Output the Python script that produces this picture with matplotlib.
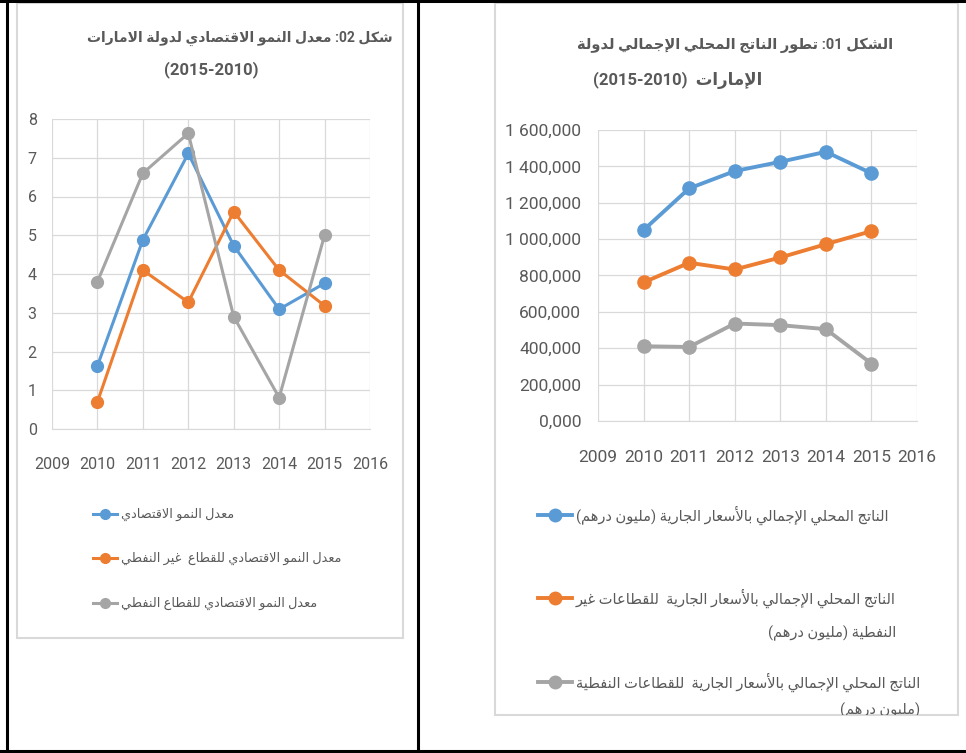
import matplotlib
matplotlib.use("Agg")
import matplotlib.pyplot as plt
from matplotlib.lines import Line2D
from matplotlib.patches import Rectangle

# ---- data ----
years = [2010, 2011, 2012, 2013, 2014, 2015]

growth_total = [1.63, 4.88, 7.11, 4.73, 3.09, 3.76]
growth_nonoil = [0.70, 4.10, 3.27, 5.61, 4.10, 3.18]
growth_oil = [3.80, 6.60, 7.63, 2.90, 0.81, 5.00]

gdp_total = [1050000, 1279000, 1374000, 1425000, 1480000, 1362000]
gdp_nonoil = [762000, 870000, 833000, 899000, 972000, 1044000]
gdp_oil = [411000, 407000, 536000, 527000, 505000, 316000]

colors = ["#5B9BD5", "#ED7D31", "#A5A5A5"]

# ---- minimal arabic shaping (presentation forms + RTL) ----
_AR = [('\u0621', 0xFE80, 1), ('\u0622', 0xFE81, 2), ('\u0623', 0xFE83, 2),
       ('\u0624', 0xFE85, 2), ('\u0625', 0xFE87, 2), ('\u0626', 0xFE89, 4),
       ('\u0627', 0xFE8D, 2), ('\u0628', 0xFE8F, 4), ('\u0629', 0xFE93, 2),
       ('\u062A', 0xFE95, 4), ('\u062B', 0xFE99, 4), ('\u062C', 0xFE9D, 4),
       ('\u062D', 0xFEA1, 4), ('\u062E', 0xFEA5, 4), ('\u062F', 0xFEA9, 2),
       ('\u0630', 0xFEAB, 2), ('\u0631', 0xFEAD, 2), ('\u0632', 0xFEAF, 2),
       ('\u0633', 0xFEB1, 4), ('\u0634', 0xFEB5, 4), ('\u0635', 0xFEB9, 4),
       ('\u0636', 0xFEBD, 4), ('\u0637', 0xFEC1, 4), ('\u0638', 0xFEC5, 4),
       ('\u0639', 0xFEC9, 4), ('\u063A', 0xFECD, 4), ('\u0641', 0xFED1, 4),
       ('\u0642', 0xFED5, 4), ('\u0643', 0xFED9, 4), ('\u0644', 0xFEDD, 4),
       ('\u0645', 0xFEE1, 4), ('\u0646', 0xFEE5, 4), ('\u0647', 0xFEE9, 4),
       ('\u0648', 0xFEED, 2), ('\u0649', 0xFEEF, 2), ('\u064A', 0xFEF1, 4)]
FORMS = {c: (b, k) for c, b, k in _AR}
LAMALEF = {'\u0622': 0xFEF5, '\u0623': 0xFEF7, '\u0625': 0xFEF9, '\u0627': 0xFEFB}


def shape(s):
    out = []
    n = len(s)
    i = 0
    while i < n:
        c = s[i]
        if c not in FORMS:
            out.append(c)
            i += 1
            continue
        prev = s[i - 1] if i > 0 else ''
        jp = prev in FORMS and FORMS[prev][1] == 4
        if c == '\u0644' and i + 1 < n and s[i + 1] in LAMALEF:
            out.append(chr(LAMALEF[s[i + 1]] + (1 if jp else 0)))
            i += 2
            continue
        nxt = s[i + 1] if i + 1 < n else ''
        base, k = FORMS[c]
        if k == 1:
            off = 0
        elif k == 2:
            off = 1 if jp else 0
        else:
            jn = nxt in FORMS
            off = 3 if (jp and jn) else 1 if jp else 2 if jn else 0
        out.append(chr(base + off))
        i += 1
    return ''.join(out)


def ar(s):
    # shaped glyphs in visual (left-to-right) order
    return shape(s)[::-1].translate(str.maketrans('()', ')('))


title_left = [ar("معدل النمو الاقتصادي لدولة الامارات") + " :02 " + ar("شكل"),
              "(2015-2010)"]
title_right = [ar("تطور الناتج المحلي الإجمالي لدولة") + " :01 " + ar("الشكل"),
               "(2015-2010)  " + ar("الإمارات")]

labels_left = [ar("معدل النمو الاقتصادي"),
               ar("معدل النمو الاقتصادي للقطاع  غير النفطي"),
               ar("معدل النمو الاقتصادي للقطاع النفطي")]
labels_right = [[ar("الناتج المحلي الإجمالي بالأسعار الجارية (مليون درهم)")],
                [ar("الناتج المحلي الإجمالي بالأسعار الجارية  للقطاعات غير"),
                 ar("النفطية (مليون درهم)")],
                [ar("الناتج المحلي الإجمالي بالأسعار الجارية  للقطاعات النفطية"),
                 ar("(مليون درهم)")]]

W, H = 966, 753
def fx(x): return x / W
def fy(y): return 1 - y / H

fonts = ["Roboto", "DejaVu Sans"]
txt_col = "#595959"

fig = plt.figure(figsize=(W / 100, H / 100), dpi=100)
renderer = fig.canvas.get_renderer()

# table borders
for xs, ys in [([0, W], [1, 1]), ([7, 7], [0, H]), ([0, W], [751, 751]),
               ([418, 418], [0, H])]:
    fig.add_artist(Line2D([fx(v) for v in xs], [fy(v) for v in ys],
                          color="black", lw=2.2))

# chart frames
for x0, y0, x1, y1 in [(17, 3, 403, 638), (495, 3, 958, 715)]:
    fig.add_artist(Rectangle((fx(x0), fy(y1)), fx(x1) - fx(x0), fy(y0) - fy(y1),
                             fill=False, edgecolor="#D9D9D9", lw=1.5))


def style_axes(ax, fs, xpad, ypad):
    ax.set_xlim(2009, 2016)
    ax.set_xticks(range(2009, 2017))
    ax.grid(True, color="#D9D9D9", lw=0.9)
    ax.set_axisbelow(True)
    for s in ax.spines.values():
        s.set_visible(False)
    ax.spines["bottom"].set_visible(True)
    ax.spines["bottom"].set_color("#D9D9D9")
    ax.tick_params(length=0, colors=txt_col, labelsize=fs)
    ax.tick_params(axis="x", pad=xpad)
    ax.tick_params(axis="y", pad=ypad)
    for t in ax.get_xticklabels() + ax.get_yticklabels():
        t.set_family(fonts)


# left chart: growth rates
ax1 = fig.add_axes([fx(52), fy(429), fx(370) - fx(52), fy(119) - fy(429)])
for vals, c in zip([growth_total, growth_nonoil, growth_oil], colors):
    ax1.plot(years, vals, color=c, lw=2.2, marker="o", ms=8.5)
ax1.set_ylim(0, 8)
ax1.set_yticks(range(0, 9))
style_axes(ax1, 11.5, 20, 11)

# right chart: GDP
ax2 = fig.add_axes([fx(598), fy(421), fx(917) - fx(598), fy(130) - fy(421)])
for vals, c in zip([gdp_total, gdp_nonoil, gdp_oil], colors):
    ax2.plot(years, vals, color=c, lw=2.8, marker="o", ms=9.5)
ax2.set_ylim(0, 1600000)
ax2.set_yticks(range(0, 1600001, 200000))
ax2.yaxis.set_major_formatter(
    lambda v, p: f"{int(v) // 1000:,}".replace(",", " ") + ",000")
style_axes(ax2, 12.5, 21, 12)

# titles
fig.text(fx(240), fy(38), title_left[0], ha="center", va="center",
         fontsize=10, fontweight="bold", color=txt_col, family=fonts)
fig.text(fx(211), fy(70), title_left[1], ha="center", va="center",
         fontsize=12, fontweight="bold", color=txt_col, family=fonts)
fig.text(fx(735), fy(45), title_right[0], ha="center", va="center",
         fontsize=10.5, fontweight="bold", color=txt_col, family=fonts)
fig.text(fx(678), fy(80), title_right[1], ha="center", va="center",
         fontsize=12, fontweight="bold", color=txt_col, family=fonts)

# legends
for lab, c, y in zip(labels_left, colors, [514, 558, 603]):
    fig.add_artist(Line2D([fx(93), fx(117)], [fy(y), fy(y)], color=c, lw=2.2))
    fig.add_artist(Line2D([fx(105)], [fy(y)], color=c, marker="o", ms=7))
    fig.text(fx(121), fy(y), lab, ha="left", va="center", fontsize=9.3,
             color=txt_col, family=fonts)

clip = Rectangle((fx(495), fy(715)), fx(958) - fx(495), fy(3) - fy(715),
                 transform=fig.transFigure)
for lines, c, ys in zip(labels_right, colors, [[515], [598, 633], [682, 710]]):
    fig.add_artist(Line2D([fx(538), fx(572)], [fy(ys[0]), fy(ys[0])],
                          color=c, lw=2.8))
    fig.add_artist(Line2D([fx(555)], [fy(ys[0])], color=c, marker="o", ms=9))
    t = fig.text(fx(576), fy(ys[0]), lines[0], ha="left", va="center",
                 fontsize=10.5, color=txt_col, family=fonts)
    right = t.get_window_extent(renderer).x1
    for ln, y in zip(lines[1:], ys[1:]):
        t2 = fig.text(right / W, fy(y), ln, ha="right", va="center",
                      fontsize=10.5, color=txt_col, family=fonts)
        t2.set_clip_path(clip)

fig.savefig("out.png", dpi=100)
